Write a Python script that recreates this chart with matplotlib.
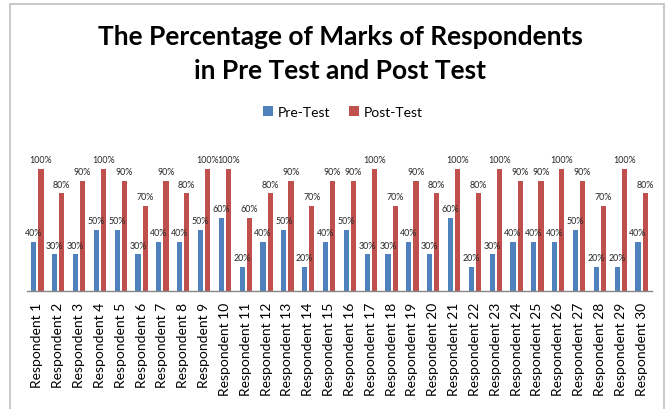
import matplotlib
matplotlib.use("Agg")
import matplotlib.pyplot as plt
import numpy as np
from matplotlib.patches import Rectangle

categories = [f"Respondent {i}" for i in range(1, 31)]
pre_test = [40, 30, 30, 50, 50, 30, 40, 40, 50, 60, 20, 40, 50, 20, 40,
            50, 30, 30, 40, 30, 60, 20, 30, 40, 40, 40, 50, 20, 20, 40]
post_test = [100, 80, 90, 100, 90, 70, 90, 80, 100, 100, 60, 80, 90, 70, 90,
             90, 100, 70, 90, 80, 100, 80, 100, 90, 90, 100, 90, 70, 100, 80]

plt.rcParams['font.family'] = ['Lato', 'DejaVu Sans']

W, H = 672, 410
fig = plt.figure(figsize=(W / 100, H / 100), dpi=100)
fig.patch.set_facecolor('white')

# chart border
fig.patches.append(Rectangle((10 / W, -0.05), 654 / W, 1.05 - 5 / H,
                             transform=fig.transFigure, fill=False,
                             edgecolor='#BFBFBF', linewidth=1.2))

ax_left, ax_right = 27, 652
ax_bottom, ax_top = 292, 150
ax = fig.add_axes([ax_left / W, 1 - ax_bottom / H,
                   (ax_right - ax_left) / W, (ax_bottom - ax_top) / H])

x = np.arange(len(categories))
bw = 0.25
off = 0.17
pre = np.array(pre_test) / 100
post = np.array(post_test) / 100
b1 = ax.bar(x - off, pre, bw, color='#4F81BD', label='Pre-Test')
b2 = ax.bar(x + off, post, bw, color='#C0504D', label='Post-Test')

for rects, vals in ((b1, pre_test), (b2, post_test)):
    for r, v in zip(rects, vals):
        ax.annotate(f"{v}%", (r.get_x() + r.get_width() / 2, r.get_height()),
                    xytext=(0, 3.5), textcoords='offset points',
                    ha='center', va='bottom', fontsize=6.4, color='#262626')

ax.set_xlim(-0.5, len(categories) - 0.5)
ax.set_ylim(0, 142 / 122)
ax.set_yticks([])
ax.set_xticks(x)
ax.set_xticklabels(categories, rotation=90, fontsize=10, color='#000000')
ax.tick_params(axis='x', length=0, pad=8)
for s in ('top', 'right', 'left'):
    ax.spines[s].set_visible(False)
ax.spines['bottom'].set_color('#868686')
ax.spines['bottom'].set_linewidth(1.0)

fig.text(340 / W, 1 - 37 / H, "The Percentage of Marks of Respondents",
         ha='center', va='center', fontsize=19, fontweight='bold')
fig.text(340 / W, 1 - 71 / H, "in Pre Test and Post Test",
         ha='center', va='center', fontsize=19, fontweight='bold')

fig.legend(handles=[b1, b2], loc='center', bbox_to_anchor=(343 / W, 1 - 113 / H),
           ncol=2, frameon=False, fontsize=10, handlelength=0.7,
           handleheight=0.7, handletextpad=0.4, columnspacing=1.3)

fig.savefig('out.png', dpi=100)
